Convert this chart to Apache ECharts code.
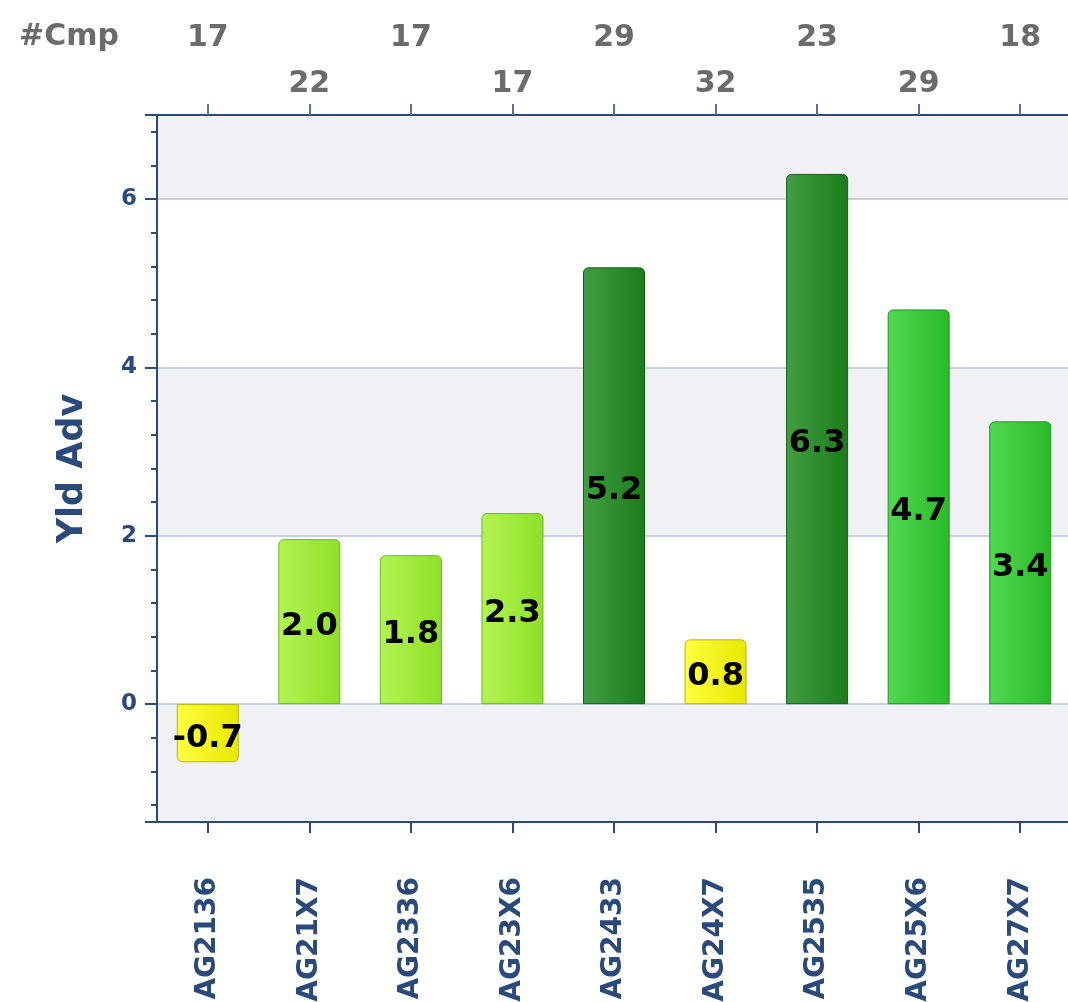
<!DOCTYPE html>
<html>
<head>
<meta charset="utf-8">
<title>Yld Adv</title>
<script src="https://cdn.jsdelivr.net/npm/echarts@6/dist/echarts.min.js"></script>
<style>
html, body { margin: 0; padding: 0; background: #ffffff; }
#main { width: 1068px; height: 1002px; }
</style>
</head>
<body>
<div id="main"></div>
<script>
var categories = ['AG2136', 'AG21X7', 'AG2336', 'AG23X6', 'AG2433', 'AG24X7', 'AG2535', 'AG25X6', 'AG27X7'];
var yldAdv = [-0.69, 1.96, 1.77, 2.27, 5.19, 0.77, 6.3, 4.69, 3.36];
var cmpCounts = [17, 22, 17, 17, 29, 32, 23, 29, 18];

var navy = '#2b4a7c';
var font = 'DejaVu Sans';

// colour band by value, gradient left -> right
function barColor(v) {
    var c;
    if (v < 1) c = ['#ffff40', '#e8e800', '#b8b800'];
    else if (v < 3) c = ['#b2f552', '#8fdf28', '#6fb81c'];
    else if (v < 5) c = ['#52d852', '#28ba28', '#1f951f'];
    else c = ['#429e42', '#1b7c1b', '#145e14'];
    return c;
}

var barData = yldAdv.map(function (v) {
    var c = barColor(v);
    return {
        value: v,
        itemStyle: {
            color: {
                type: 'linear', x: 0, y: 0, x2: 1, y2: 0,
                colorStops: [{ offset: 0, color: c[0] }, { offset: 1, color: c[1] }]
            },
            borderColor: c[2],
            borderWidth: 1,
            borderRadius: v < 0 ? [0, 0, 5, 5] : [5, 5, 0, 0]
        }
    };
});

var myChart = echarts.init(document.getElementById('main'));

var option = {
    animation: false,
    title: {
        text: '#Cmp',
        left: 14,
        top: 17,
        textStyle: { fontFamily: font, fontSize: 30, fontWeight: 'bold', color: '#6b6b6b' }
    },
    grid: { left: 157, top: 115, right: -3, bottom: 180, outerBoundsMode: 'none' },
    xAxis: [{
        type: 'category',
        data: categories,
        position: 'bottom',
        axisLine: { onZero: false, lineStyle: { color: navy, width: 2 } },
        axisTick: { show: true, alignWithLabel: true, length: 11, lineStyle: { color: navy, width: 2 } },
        axisLabel: {
            rotate: 90,
            margin: 55,
            fontFamily: font,
            fontSize: 28,
            fontWeight: 'bold',
            color: navy
        }
    }, {
        type: 'category',
        data: categories,
        position: 'top',
        axisLine: { onZero: false, lineStyle: { color: navy, width: 2 } },
        axisTick: { show: true, alignWithLabel: true, length: 11, lineStyle: { color: '#5a7199', width: 2 } },
        axisLabel: {
            margin: 16,
            interval: 0,
            formatter: function (val, idx) {
                return (idx % 2 === 0 ? '{up|' : '{low|') + cmpCounts[idx] + '}';
            },
            rich: {
                up: { fontFamily: font, fontSize: 30, fontWeight: 'bold', color: '#6b6b6b', padding: [0, 0, 46, 0] },
                low: { fontFamily: font, fontSize: 30, fontWeight: 'bold', color: '#6b6b6b' }
            }
        }
    }],
    yAxis: {
        type: 'value',
        min: -1.4,
        max: 7,
        name: 'Yld Adv',
        nameLocation: 'middle',
        nameGap: 67,
        nameTextStyle: { fontFamily: font, fontSize: 35, fontWeight: 'bold', color: navy },
        axisLine: { show: true, lineStyle: { color: navy, width: 2 } },
        axisTick: { show: true, length: 12, lineStyle: { color: navy, width: 2 } },
        minorTick: { show: true, splitNumber: 5, length: 6, lineStyle: { color: navy, width: 2 } },
        axisLabel: {
            margin: 20,
            showMinLabel: false,
            showMaxLabel: false,
            fontFamily: font,
            fontSize: 23,
            fontWeight: 'bold',
            color: navy
        },
        splitLine: { show: true, lineStyle: { color: '#c9d1e1', width: 2 } },
        splitArea: { show: true, areaStyle: { color: ['#f0f0f5', '#ffffff'] } }
    },
    series: [{
        type: 'bar',
        xAxisIndex: 0,
        data: barData,
        barWidth: 62,
        label: {
            show: true,
            position: 'inside',
            offset: [0, 5],
            formatter: function (p) { return p.value.toFixed(1); },
            fontFamily: font,
            fontSize: 32,
            fontWeight: 'bold',
            color: '#000000'
        }
    }]
};

myChart.setOption(option);
</script>
</body>
</html>
